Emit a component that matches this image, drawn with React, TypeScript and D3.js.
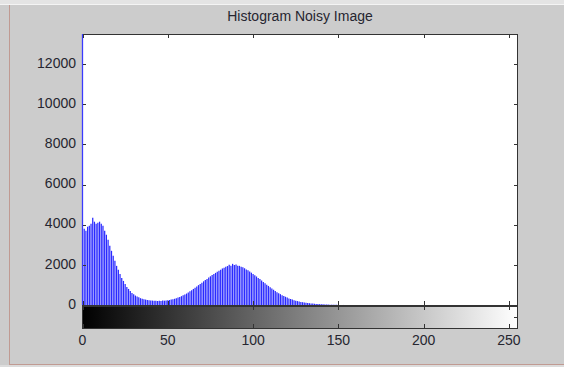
import * as d3 from 'd3';

// histogram counts per grey level (0..255)
const counts: number[] = [
  13500, 3800, 3700, 3900, 3950, 4050, 4350, 4150, 4050, 4100,
  4150, 4050, 3950, 3700, 3500, 3250, 2950, 2700, 2450, 2200,
  1950, 1750, 1550, 1350, 1200, 1050, 900, 800, 700, 600,
  530, 470, 420, 380, 340, 310, 290, 270, 250, 240,
  230, 220, 210, 215, 200, 210, 205, 220, 215, 230,
  240, 250, 270, 290, 310, 340, 370, 400, 440, 480,
  520, 570, 620, 680, 740, 800, 860, 920, 990, 1050,
  1110, 1180, 1240, 1300, 1370, 1430, 1490, 1550, 1600, 1660,
  1710, 1760, 1820, 1860, 1900, 1940, 2000, 1960, 2050, 1990,
  2020, 1960, 1950, 1900, 1880, 1830, 1770, 1730, 1670, 1610,
  1550, 1480, 1420, 1350, 1290, 1220, 1150, 1080, 1010, 950,
  880, 820, 760, 700, 640, 590, 540, 490, 450, 410,
  370, 330, 300, 270, 240, 215, 195, 175, 155, 140,
  125, 110, 100, 90, 80, 70, 62, 55, 48, 42,
  37, 32, 28, 24, 20, 17, 14, 11, 9, 7,
  5, 4, 3, 2, 1, 1,
];
while (counts.length < 256) counts.push(0);

const yTicks = [0, 2000, 4000, 6000, 8000, 10000, 12000];
const xTicks = [0, 50, 100, 150, 200, 250];
const title = 'Histogram Noisy Image';

const W = 564;
const H = 367;
const left = 82;
const right = 518;
const top = 34;
const bottom = 305;
const cbTop = 306;
const cbBottom = 328;
const font = '"Liberation Sans", Arial, sans-serif';
const textColor = '#262630';
const axisColor = '#333333';

export default function App() {
  const x = d3.scaleLinear().domain([0, 255]).range([left + 0.5, right - 0.5]);
  const y = d3.scaleLinear().domain([0, 13500]).range([bottom, top]);

  return (
    <div style={{ position: 'fixed', left: 0, top: 0, width: W, height: H, background: '#cccccc' }}>
      <svg width={W} height={H} style={{ display: 'block' }}>
        <defs>
          <linearGradient id="grey" x1="0" x2="1" y1="0" y2="0">
            <stop offset="0" stopColor="#000000" />
            <stop offset="1" stopColor="#ffffff" />
          </linearGradient>
        </defs>
        {/* window chrome */}
        <rect x={0} y={0} width={W} height={H} fill="#cccccc" />
        <rect x={0} y={0} width={W} height={4} fill="#e4e4e4" />
        <line x1={0} x2={W} y1={4.5} y2={4.5} stroke="#f4f4f4" />
        <line x1={9.5} x2={9.5} y1={5} y2={364} stroke="#c09a92" />
        <line x1={9} x2={W} y1={364.5} y2={364.5} stroke="#c09a92" />
        <rect x={0} y={365} width={W} height={2} fill="#dcdcdc" />

        <text x={(left + right) / 2} y={17} fontFamily={font} fontSize={14} fill={textColor}
          textAnchor="middle" dominantBaseline="middle">{title}</text>

        {/* main axes */}
        <rect x={left + 0.5} y={top + 0.5} width={right - left - 1} height={bottom - top} fill="#ffffff" />
        <g>
          {counts.map((c, i) =>
            c > 0 ? (
              <line key={i} x1={x(i)} x2={x(i)}
                y1={bottom} y2={Math.max(y(c), top)} stroke="#2a2aff" strokeWidth={1.25} />
            ) : null,
          )}
        </g>
        <g stroke={axisColor} fill="none" shapeRendering="crispEdges">
          <line x1={left} x2={right} y1={top + 0.5} y2={top + 0.5} />
          <line x1={right - 0.5} x2={right - 0.5} y1={top} y2={bottom} />
          <line x1={left} x2={right} y1={bottom + 0.5} y2={bottom + 0.5} />
          {yTicks.map((t) => (
            <g key={t}>
              <line x1={left} x2={left + 4} y1={Math.round(y(t)) + 0.5} y2={Math.round(y(t)) + 0.5} />
              <line x1={right - 4} x2={right} y1={Math.round(y(t)) + 0.5} y2={Math.round(y(t)) + 0.5} />
            </g>
          ))}
          {xTicks.map((t) => (
            <g key={t}>
              <line x1={Math.round(x(t)) + 0.5} x2={Math.round(x(t)) + 0.5} y1={top} y2={top + 4} />
              <line x1={Math.round(x(t)) + 0.5} x2={Math.round(x(t)) + 0.5} y1={bottom - 4} y2={bottom} />
            </g>
          ))}
        </g>
        <line x1={left + 0.5} x2={left + 0.5} y1={top} y2={bottom} stroke="#3a3aff" shapeRendering="crispEdges" />
        {yTicks.map((t) => (
          <text key={t} x={left - 6} y={y(t)} fontFamily={font} fontSize={14} fill={textColor}
            textAnchor="end" dominantBaseline="middle">{t}</text>
        ))}

        {/* grey-level colour bar */}
        <rect x={left} y={cbTop} width={right - left} height={cbBottom - cbTop} fill="url(#grey)" />
        <g stroke={axisColor} fill="none" shapeRendering="crispEdges">
          <rect x={left + 0.5} y={cbTop + 0.5} width={right - left - 1} height={cbBottom - cbTop} />
          {xTicks.map((t) => (
            <g key={t}>
              <line x1={Math.round(x(t)) + 0.5} x2={Math.round(x(t)) + 0.5} y1={cbTop} y2={cbTop + 4} />
              <line x1={Math.round(x(t)) + 0.5} x2={Math.round(x(t)) + 0.5} y1={cbBottom - 4} y2={cbBottom} />
            </g>
          ))}
          <line x1={right - 4} x2={right} y1={(cbTop + cbBottom) / 2 + 0.5} y2={(cbTop + cbBottom) / 2 + 0.5} />
        </g>
        {xTicks.map((t) => (
          <text key={t} x={x(t)} y={341} fontFamily={font} fontSize={14} fill={textColor}
            textAnchor="middle" dominantBaseline="middle">{t}</text>
        ))}
      </svg>
    </div>
  );
}
